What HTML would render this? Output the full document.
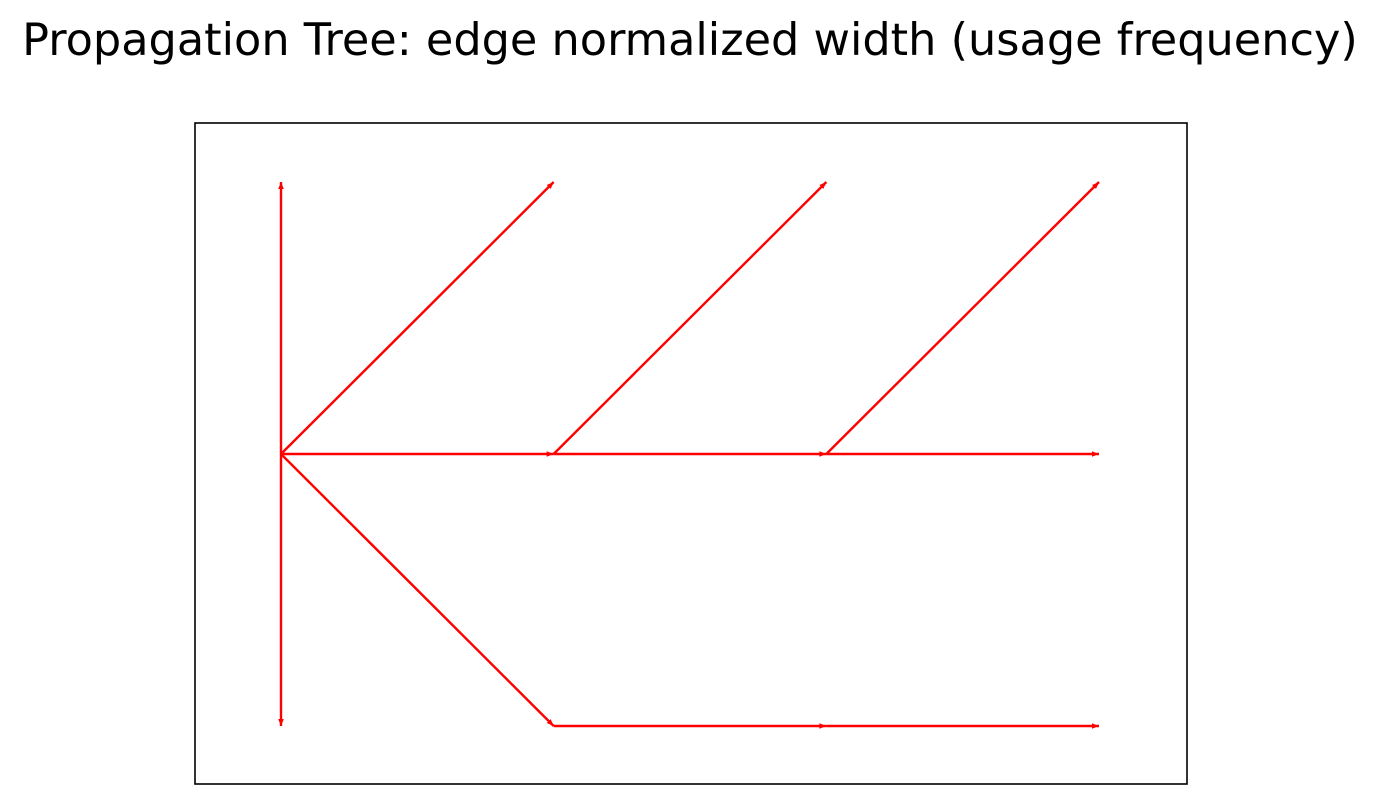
<!DOCTYPE html>
<html><head><meta charset="utf-8"><style>
body{margin:0;background:#fff;}
svg{display:block;}
</style></head><body>
<svg id="chart" width="1381" height="804" xmlns="http://www.w3.org/2000/svg">
<text x="690" y="55" text-anchor="middle" font-family="DejaVu Sans, Liberation Sans, sans-serif" font-size="44.6" fill="#000">Propagation Tree: edge normalized width (usage frequency)</text>
<rect x="195" y="123" width="992" height="661" fill="none" stroke="#000" stroke-width="1.6"/>
<g id="edges"></g>
</svg>
<script>
// node positions in data units (depth, branch)
const nodeX = [0, 0, 0, 1, 1, 1, 2, 2, 2, 3, 3, 3];
const nodeY = [0, 1, -1, 1, 0, -1, 1, 0, -1, 1, 0, -1];
const edgeFrom = [0, 0, 0, 0, 0, 4, 4, 7, 7, 5, 8];
const edgeTo   = [1, 2, 3, 4, 5, 6, 7, 9, 10, 8, 11];
const edgeWidth = [1, 1, 1, 1, 1, 1, 1, 1, 1, 1, 1];

function sx(v){ return 281 + v * (1099 - 281) / 3; }
function sy(v){ return 454 - v * 272; }

const g = document.getElementById('edges');
const NS = 'http://www.w3.org/2000/svg';
for (let i = 0; i < edgeFrom.length; i++) {
  const a = edgeFrom[i], b = edgeTo[i];
  const x1 = sx(nodeX[a]), y1 = sy(nodeY[a]), x2 = sx(nodeX[b]), y2 = sy(nodeY[b]);
  const line = document.createElementNS(NS, 'line');
  line.setAttribute('x1', x1); line.setAttribute('y1', y1);
  line.setAttribute('x2', x2); line.setAttribute('y2', y2);
  line.setAttribute('stroke', '#ff0000');
  line.setAttribute('stroke-width', 2.4 * edgeWidth[i]);
  
  
  g.appendChild(line);
  const dx = x2 - x1, dy = y2 - y1, L = Math.hypot(dx, dy);
  const ux = dx / L, uy = dy / L, px = -uy, py = ux;
  const hl = 7, hw = 2.8;
  const head = document.createElementNS(NS, 'polygon');
  const bx = x2 - ux * hl, by = y2 - uy * hl;
  head.setAttribute('points', `${x2},${y2} ${bx + px * hw},${by + py * hw} ${bx - px * hw},${by - py * hw}`);
  head.setAttribute('fill', '#ff0000');
  
  
  g.appendChild(head);
}
</script>
</body></html>
